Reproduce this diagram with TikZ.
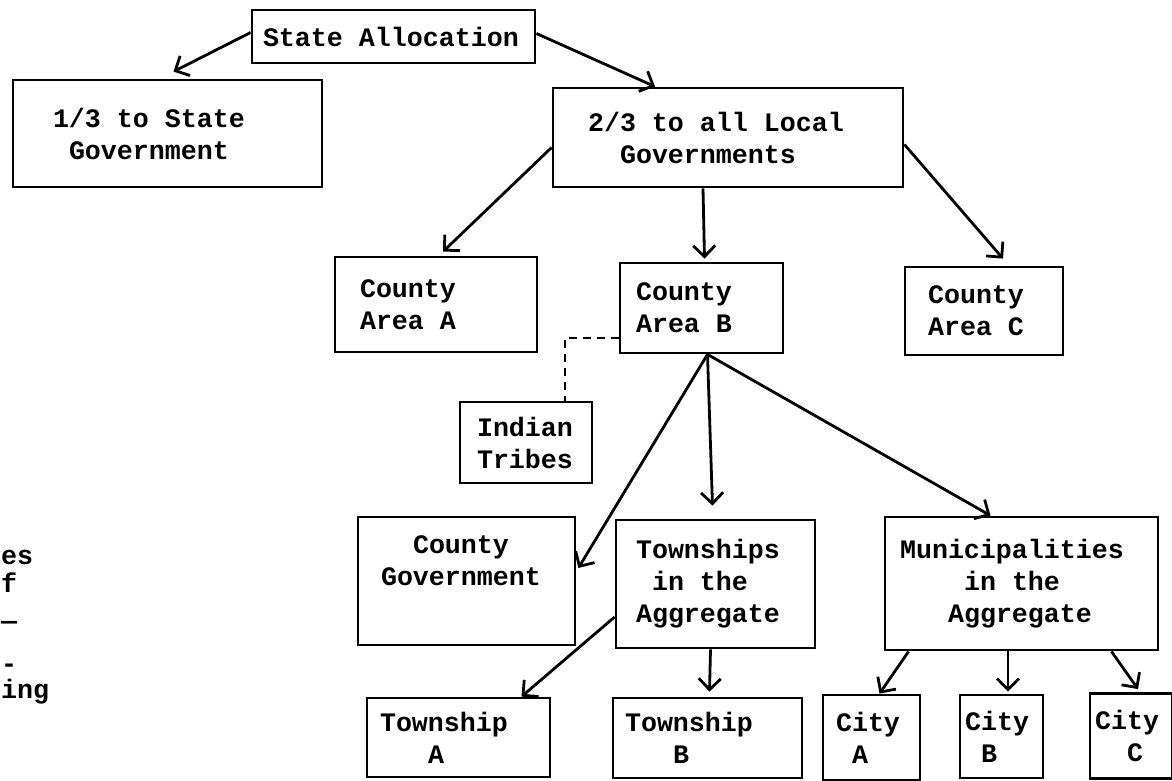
\documentclass[tikz,border=0pt]{standalone}
\usepackage{fontspec}
\setmainfont{Liberation Mono}
\usetikzlibrary{arrows.meta}
\newcommand\tabsp{\hspace*{16pt}}
\newcommand\typesp{\spaceskip=16pt\relax}

\begin{document}
\begin{tikzpicture}[x=1pt, y=-1pt,
    box/.style={draw, line width=2.8pt, align=left, inner ysep=0pt,
        font=\fontsize{26.66}{32}\selectfont\bfseries,
        execute at begin node=\typesp},
    arr/.style={-{Straight Barb[length=11pt,width=22pt]}, line width=2.8pt},
    dashln/.style={line width=2.4pt, dash pattern=on 8pt off 6pt},
    frag/.style={anchor=west, inner sep=0pt,
        font=\fontsize{26.66}{32}\selectfont\bfseries}]
    \useasboundingbox (0,0) rectangle (1172,781);

    % Top node
    \node[box, inner xsep=11pt, text width=261pt, minimum height=53pt] (alloc) at (393.5,36.5) {State Allocation};

    % 1) split of the allocation
    \node[box, inner xsep=40pt, text width=229pt, minimum height=107pt] (state) at (167.5,133.5) {1/3 to State\\\tabsp Government};
    \node[box, inner xsep=35pt, text width=280pt, minimum height=99pt] (local) at (728,137.5) {2/3 to all Local\\\tabsp\tabsp Governments};

    % 2) county areas
    \node[box, inner xsep=25pt, text width=152pt, minimum height=95pt] (areaA) at (436,304.5) {County\\Area A};
    \node[box, inner xsep=16pt, text width=131pt, minimum height=90pt] (areaB) at (701.5,308) {County\\Area B};
    \node[box, inner xsep=23pt, text width=112pt, minimum height=88pt] (areaC) at (984,311) {County\\Area C};
    \node[box, inner xsep=17pt, text width=98pt, minimum height=81pt] (tribes) at (526,442.5) {Indian\\Tribes};

    % 3) inside county area B
    \node[box, inner xsep=23pt, text width=171pt, minimum height=128pt] (cgov) at (466.5,581) {\tabsp\tabsp County\\Government\\\strut};
    \node[box, inner xsep=20pt, text width=159pt, minimum height=128pt] (twps) at (715.5,584) {Townships\\\tabsp in the\\Aggregate};
    \node[box, inner xsep=15pt, text width=243pt, minimum height=133pt] (munis) at (1021.5,583.5) {Municipalities\\\tabsp\tabsp\tabsp\tabsp in the\\\tabsp\tabsp\tabsp Aggregate};

    % 4) bottom row
    \node[box, inner xsep=13pt, text width=157pt, minimum height=79pt] (twpA) at (458.5,737.5) {Township\\\tabsp\tabsp\tabsp A};
    \node[box, inner xsep=12pt, text width=165pt, minimum height=80pt] (twpB) at (707.5,738) {Township\\\tabsp\tabsp\tabsp B};
    \node[box, inner xsep=13pt, text width=71pt, minimum height=85pt] (cityA) at (871.5,737.5) {City\\\tabsp A};
    \node[box, inner xsep=5pt, text width=73pt, minimum height=83pt] (cityB) at (1001.5,736.5) {City\\\tabsp B};
    \node[box, inner xsep=5pt, text width=72pt, minimum height=85pt] (cityC) at (1131,736) {City\\\tabsp\tabsp C};

    % word ends at the left edge
    \node[frag] (fragA) at (1,557) {es};
    \node[frag] (fragB) at (1,583) {f};
    \node[frag] (fragC) at (1,625) {—};
    \node[frag] (fragD) at (1,668) {-};
    \node[frag] (fragE) at (1,692) {ing};

    % Connections
    \draw[arr] ([yshift=4pt]alloc.west) -- ([xshift=6pt,yshift=7pt]state.north);
    \draw[arr] ([yshift=3pt]alloc.east) -- ([xshift=-73pt]local.north);

    \draw[arr] ([yshift=-10pt]local.west) -- ([xshift=7pt,yshift=4pt]areaA.north);
    \draw[arr] ([xshift=-25pt]local.south) -- ([xshift=3pt,yshift=3pt]areaB.north);
    \draw[arr] ([yshift=-7pt]local.east) -- ([xshift=19pt,yshift=7pt]areaC.north);

    \draw[dashln] ([yshift=-30pt]areaB.west) -| ([xshift=39pt]tribes.north);

    \coordinate (apexB) at ([xshift=6pt]areaB.south);
    \draw[arr] (apexB) -- ([xshift=2pt,yshift=13pt]cgov.east);
    \draw[arr] (apexB) -- ([xshift=-3pt,yshift=13pt]twps.north);
    \draw[arr] (apexB) -- ([xshift=-31pt]munis.north);

    \draw[arr] ([yshift=-33pt]twps.west) -- ([xshift=63pt]twpA.north);
    \draw[arr] ([xshift=-5pt]twps.south) -- ([xshift=2pt,yshift=5pt]twpB.north);

    \draw[arr] ([xshift=25pt]munis.south west) -- ([xshift=8pt]cityA.north);
    \draw[arr] ([xshift=-13.5pt]munis.south) -- ([xshift=6.5pt,yshift=2pt]cityB.north);
    \draw[arr] ([xshift=-48pt]munis.south east) -- ([xshift=7pt,yshift=3pt]cityC.north);
\end{tikzpicture}
\end{document}
